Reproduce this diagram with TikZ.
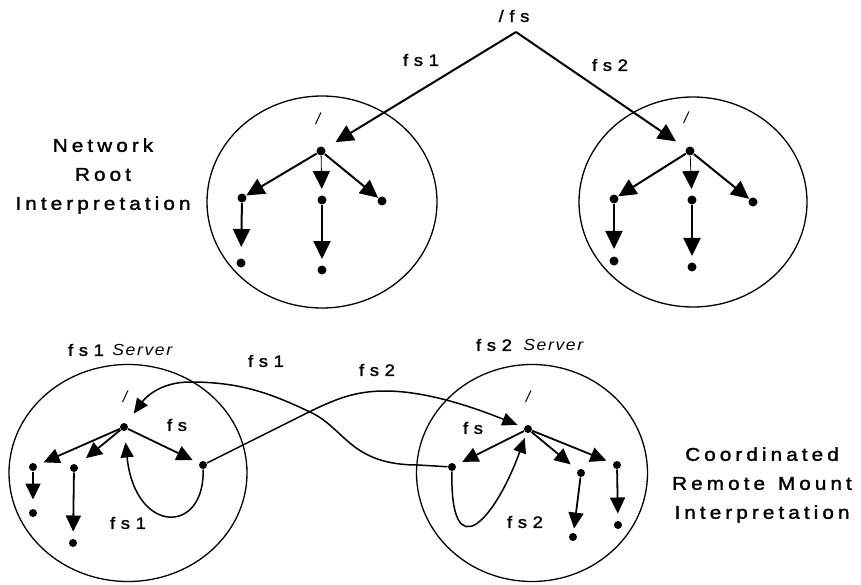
\documentclass[tikz,border=0pt]{standalone}
\usepackage{fontspec}
\setmainfont{Liberation Sans}
\newfontfamily\wideface[LetterSpace=22, FakeStretch=1.12, FakeBold=1.6]{Liberation Sans}
\newfontfamily\tagface[LetterSpace=34, FakeStretch=1.12, FakeBold=1.6]{Liberation Sans}
\newfontfamily\srvface[LetterSpace=10, FakeStretch=1.1]{Liberation Sans}
\usetikzlibrary{arrows.meta, positioning, shapes.geometric}
\tikzset{
    ring/.style={
        draw,
        ellipse,
        line width=1.3pt,
        inner sep=0pt
    },
    bigdot/.style={circle, fill, inner sep=0pt, minimum size=9pt, outer sep=0.5pt},
    dot/.style={circle, fill, inner sep=0pt, minimum size=8pt, outer sep=0.5pt},
    edge/.style={-{Triangle[length=18pt, width=17pt]}, line width=2pt},
    thinedge/.style={edge, line width=0.8pt},
    subedge/.style={-{Triangle[length=16pt, width=15pt]}, line width=1.8pt},
    mountline/.style={-{Triangle[length=15pt, width=13pt]}, line width=1.5pt},
    gap/.style={shorten >=#1},
    tag/.style={font=\tagface\fontsize{16.5}{19}\selectfont, inner sep=0pt},
    title/.style={font=\wideface\fontsize{18.5}{29}\selectfont, align=center, inner sep=0pt},
    srv/.style={font=\srvface\itshape\fontsize{16}{18}\selectfont, inner sep=0pt},
    slash/.style={font=\itshape\fontsize{16}{18}\selectfont, inner sep=0pt}
}

\begin{document}
\begin{tikzpicture}[x=1pt, y=-1pt]
\useasboundingbox (0,0) rectangle (861,585);

% network root: one name space over both servers
\coordinate (apex) at (516,32);
\node[tag] (lroot) at (514,16) {/fs};
\node[tag] (lfsa) at (421,60) {fs1};
\node[tag] (lfsb) at (610,65) {fs2};
\node[title] (nettitle) at (103,176) {Network\\Root\\Interpretation};

\node[ring, minimum width=230pt, minimum height=212pt] (neta) at (322,202) {};
\node[ring, minimum width=228pt, minimum height=210pt] (netb) at (693,202) {};

\node[slash] (sla) at (318,119) {/};
\node[bigdot] (ra) at (321,151) {};
\node[bigdot] (ra1) at (242,198) {};
\node[bigdot] (ra2) at (322,200) {};
\node[bigdot] (ra3) at (382,201) {};
\node[bigdot] (ga1) at (241,263) {};
\node[bigdot] (ga2) at (322,270) {};

\node[slash] (slb) at (686,118) {/};
\node[bigdot] (rb) at (690,151) {};
\node[bigdot] (rb1) at (614,199) {};
\node[bigdot] (rb2) at (692,200) {};
\node[bigdot] (rb3) at (753,202) {};
\node[bigdot] (gb1) at (614,261) {};
\node[bigdot] (gb2) at (692,267) {};

\draw[edge, gap=12pt] (apex) -- (ra);
\draw[edge, gap=12pt] (apex) -- (rb);

\draw[edge] (ra) -- (ra1);
\draw[thinedge, gap=6pt] (ra) -- (ra2);
\draw[edge] (ra) -- (ra3);
\draw[edge, gap=11pt] (ra1) -- (ga1);
\draw[edge, gap=6pt] (ra2) -- (ga2);

\draw[edge] (rb) -- (rb1);
\draw[thinedge, gap=6pt] (rb) -- (rb2);
\draw[edge] (rb) -- (rb3);
\draw[edge, gap=7pt] (rb1) -- (gb1);
\draw[edge, gap=6pt] (rb2) -- (gb2);

% coordinated remote mounts
\node[tag] (hsa) at (86,350) {fs1};
\node[srv, right=8pt of hsa] (hsas) {Server};
\node[tag] (hsb) at (494,345) {fs2};
\node[srv, right=11pt of hsb] (hsbs) {Server};
\node[tag] (lma) at (266,361) {fs1};
\node[tag] (lmb) at (377,370) {fs2};
\node[title] (coordtitle) at (762,485) {Coordinated\\Remote\, Mount\\Interpretation};

\node[ring, minimum width=238pt, minimum height=217pt] (srva) at (128,473) {};
\node[ring, minimum width=231pt, minimum height=217pt] (srvb) at (532,473) {};

\node[slash] (ssa) at (125,397) {/};
\node[tag] (fsa) at (177,425) {fs};
\node[tag] (fsa1) at (128,523) {fs1};
\node[dot] (sa) at (124,427) {};
\node[dot] (sa1) at (33,467) {};
\node[dot] (sa2) at (74,468) {};
\node[dot] (ma) at (203,465) {};
\node[dot] (ha1) at (33,513) {};
\node[dot] (ha2) at (73,543) {};

\node[slash] (ssb) at (528,397) {/};
\node[tag] (fsb) at (473,428) {fs};
\node[tag] (fsb2) at (525,522) {fs2};
\node[dot] (sb) at (528,429) {};
\node[dot] (mb) at (452,467) {};
\node[dot] (sb1) at (581,473) {};
\node[dot] (sb2) at (617,465) {};
\node[dot] (hb1) at (573,537) {};
\node[dot] (hb2) at (618,525) {};

\draw[subedge, gap=7pt] (sa) -- (sa1);
\draw[subedge, gap=11pt] (sa) -- (sa2);
\draw[subedge, gap=7pt] (sa) -- (ma);
\draw[subedge, gap=9pt] (sa1) -- (ha1);
\draw[subedge, gap=7pt] (sa2) -- (ha2);

\draw[subedge, gap=7pt] (sb) -- (mb);
\draw[subedge, gap=9pt] (sb) -- (sb1);
\draw[subedge, gap=7pt] (sb) -- (sb2);
\draw[subedge, gap=4pt] (sb1) -- (hb1);
\draw[subedge, gap=7pt] (sb2) -- (hb2);

% each mount point leads back to its own root
\draw[mountline, gap=11pt] (ma) .. controls (205,535) and (135,535) .. (sa);
\draw[mountline, gap=5pt] (mb) .. controls (450,570) and (495,520) .. (sb);

% and across to the other server
\draw[mountline, gap=12pt] (mb) -- (418,465)
    .. controls (350,465) and (345,428) .. (310,412)
    .. controls (270,393) and (240,382) .. (190,382)
    .. controls (160,382) and (145,398) .. (sa);
\draw[mountline, gap=7pt] (ma) -- (305,414)
    .. controls (335,399) and (355,391) .. (385,391)
    .. controls (430,391) and (480,410) .. (sb);
\end{tikzpicture}
\end{document}
